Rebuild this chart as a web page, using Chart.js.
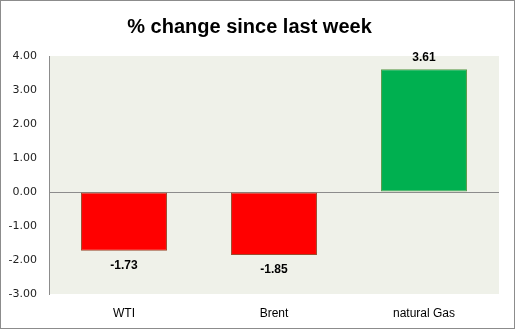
<!DOCTYPE html>
<html lang="en">
<head>
  <meta charset="UTF-8">
  <title>% change since last week</title>
  <script src="https://cdn.jsdelivr.net/npm/chart.js"></script>
  <style>
    body { margin: 0; background: #fff; }
    #wrap { width: 515px; height: 329px; }
  </style>
</head>
<body>
  <div id="wrap"><canvas id="chart" width="515" height="329"></canvas></div>
  <script>
    const categories = ['WTI', 'Brent', 'natural Gas'];
    const changes = [-1.73, -1.85, 3.61];
    const barColors = ['#ff0000', '#ff0000', '#00b050'];
    const barBorders = ['#9c4a2e', '#9c4a2e', '#5a9a4a'];

    // plot background + outer frame
    const frame = {
      id: 'frame',
      beforeDraw(chart) {
        const { ctx, chartArea: a } = chart;
        ctx.save();
        ctx.fillStyle = '#eff1e9';
        ctx.fillRect(a.left, a.top, a.right - a.left, a.bottom - a.top);
        ctx.restore();
      },
      afterDraw(chart) {
        const ctx = chart.ctx;
        ctx.save();
        ctx.strokeStyle = '#8c8c8c';
        ctx.lineWidth = 1;
        ctx.strokeRect(0.5, 0.5, chart.width - 1, chart.height - 1);
        ctx.restore();
      }
    };

    // value labels at bar ends
    const valueLabels = {
      id: 'valueLabels',
      afterDatasetsDraw(chart) {
        const ctx = chart.ctx;
        const meta = chart.getDatasetMeta(0);
        ctx.save();
        ctx.font = 'bold 12px "Liberation Sans"';
        ctx.fillStyle = '#000';
        ctx.textAlign = 'center';
        ctx.textBaseline = 'middle';
        meta.data.forEach((bar, i) => {
          const v = changes[i];
          const y = v < 0 ? bar.y + 15 : bar.y - 12;
          ctx.fillText(v.toFixed(2), bar.x, y);
        });
        ctx.restore();
      }
    };

    new Chart(document.getElementById('chart'), {
      type: 'bar',
      data: {
        labels: categories,
        datasets: [{
          data: changes,
          backgroundColor: barColors,
          borderColor: barBorders,
          borderWidth: 1,
          borderSkipped: false,
          categoryPercentage: 1,
          barPercentage: 0.573
        }]
      },
      options: {
        responsive: false,
        animation: false,
        layout: { padding: { left: 0, right: 16, top: 0, bottom: 0 } },
        plugins: {
          legend: { display: false },
          tooltip: { enabled: false },
          title: {
            display: true,
            text: '% change since last week',
            color: '#000',
            font: { family: 'Liberation Sans', size: 20, weight: 'bold', lineHeight: 1.2 },
            padding: { top: 15, bottom: 17 }
          }
        },
        scales: {
          x: {
            grid: { display: false },
            border: { display: false },
            ticks: { color: '#000', padding: 4, font: { family: 'Liberation Sans', size: 12 } },
            afterFit(scale) { scale.height = 35; }
          },
          y: {
            min: -3,
            max: 4,
            ticks: {
              stepSize: 1,
              padding: 12,
              color: '#222',
              font: { family: 'DejaVu Sans', size: 11 },
              callback: v => Number(v).toFixed(2)
            },
            grid: {
              drawTicks: false,
              color: c => (c.tick && c.tick.value === 0) ? '#8c8c8c' : 'rgba(0,0,0,0)'
            },
            border: { display: true, color: '#8c8c8c' },
            afterFit(scale) { scale.width = 49; }
          }
        }
      },
      plugins: [frame, valueLabels]
    });
  </script>
</body>
</html>
